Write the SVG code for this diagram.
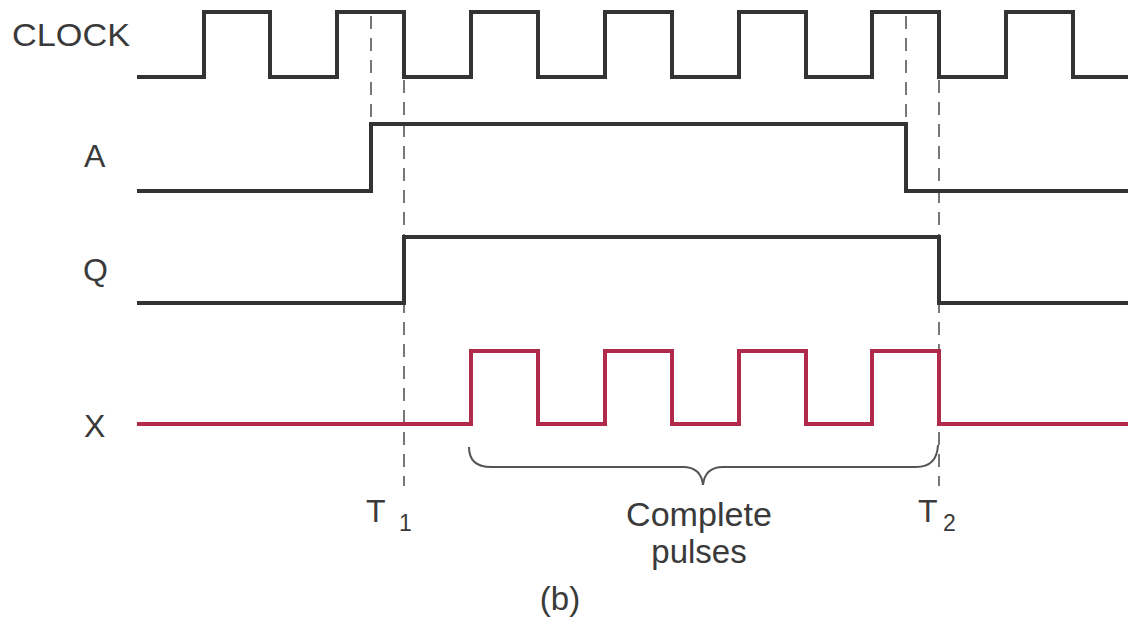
<svg xmlns="http://www.w3.org/2000/svg" width="1128" height="625" viewBox="0 0 1128 625">
<style>
.lbl{font-family:"Liberation Sans",Arial,sans-serif;fill:#3a3a3a;font-size:32px}
.cap{font-family:"Liberation Sans",Arial,sans-serif;fill:#3a3a3a;font-size:33px}
.sub{font-family:"Liberation Sans",Arial,sans-serif;fill:#3a3a3a;font-size:23px}
.sig{fill:none;stroke:#333;stroke-width:4;stroke-linejoin:miter;stroke-linecap:butt}
.red{fill:none;stroke:#b02a4c;stroke-width:4;stroke-linejoin:miter}
.dash{fill:none;stroke:#555;stroke-width:1.6;stroke-dasharray:13,9}
.brace{fill:none;stroke:#555;stroke-width:2}
</style>
<rect width="1128" height="625" fill="#fff"/>
<g id="labels">
<text class="lbl" x="12" y="46" textLength="118" lengthAdjust="spacingAndGlyphs">CLOCK</text>
<text class="lbl" x="84" y="167">A</text>
<text class="lbl" x="83" y="281">Q</text>
<text class="lbl" x="84" y="437">X</text>
</g>
<g id="connectors">
<path class="dash" d="M371,16 V124 M906,16 V124 M404,80 V486 M939,80 V486"/>
</g>
<g id="clock"><path class="sig" d="M137,77 H204 V12 H270 V77 H337 V12 H404 V77 H471 V12 H538 V77 H605 V12 H672 V77 H739 V12 H806 V77 H872 V12 H939 V77 H1006 V12 H1073 V77 H1128"/></g>
<g id="signalA"><path class="sig" d="M137,191 H371 V124 H906 V191 H1128"/></g>
<g id="signalQ"><path class="sig" d="M137,303 H404 V237 H939 V303 H1128"/></g>
<g id="signalX"><path class="red" d="M137,424 H471 V351 H538 V424 H605 V351 H672 V424 H739 V351 H806 V424 H872 V351 H939 V424 H1128"/></g>
<g id="brace"><path class="brace" d="M469,447 Q469,467 491,467 H683 Q701,467 703,485 Q705,467 723,467 H916 Q937,467 938,445"/></g>
<g id="markers">
<text class="lbl" x="366" y="522">T</text><text class="sub" x="399" y="531">1</text>
<text class="lbl" x="918" y="522">T</text><text class="sub" x="943" y="531">2</text>
</g>
<g id="caption">
<text class="cap" x="699" y="526" text-anchor="middle" textLength="146" lengthAdjust="spacingAndGlyphs">Complete</text>
<text class="cap" x="699" y="563" text-anchor="middle">pulses</text>
<text class="cap" x="560" y="610" text-anchor="middle">(b)</text>
</g>
</svg>
